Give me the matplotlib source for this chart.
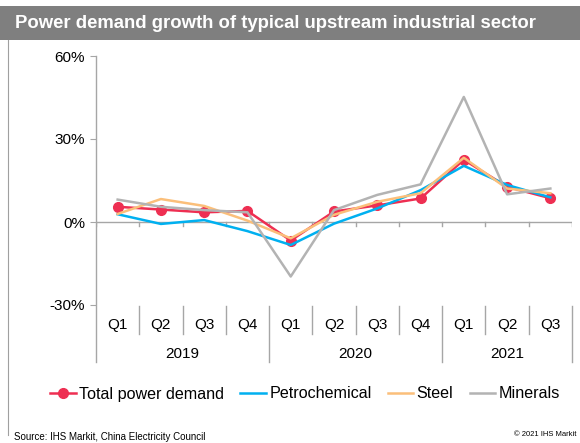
import matplotlib.pyplot as plt
from matplotlib.patches import Rectangle
from matplotlib.lines import Line2D

plt.rcParams['font.family'] = ['Liberation Sans', 'DejaVu Sans']

QUARTERS = ['Q1', 'Q2', 'Q3', 'Q4', 'Q1', 'Q2', 'Q3', 'Q4', 'Q1', 'Q2', 'Q3']
YEARS = ['2019', '2020', '2021']
YEAR_SPAN = [4, 4, 3]

total = [5.5, 4.5, 3.5, 4.0, -6.7, 3.8, 6.0, 8.5, 22.5, 12.7, 8.6]
petrochemical = [2.8, -0.7, 0.7, -3.3, -8.3, -0.6, 4.9, 11.5, 20.3, 13.4, 8.9]
steel = [2.9, 8.3, 5.8, 0.5, -5.9, 2.6, 7.3, 10.4, 23.2, 12.1, 10.4]
minerals = [8.1, 5.5, 4.3, 3.5, -19.7, 4.3, 9.8, 13.6, 45.2, 10.0, 12.1]

Y_TICKS = [-30, 0, 30, 60]

RED = '#ee2f52'
BLUE = '#00b0f0'
ORANGE = '#fbbf7a'
GRAY = '#b3b3b3'
AXIS = '#a6a6a6'

fig = plt.figure(figsize=(5.8, 4.43), dpi=100)

# title bar
fig.patches.append(Rectangle((0, 1 - 40 / 443), 1, 34 / 443, transform=fig.transFigure,
                             facecolor='#7f7f7f', edgecolor='none', zorder=0))
fig.text(15 / 580, 1 - 23 / 443, 'Power demand growth of typical upstream industrial sector',
         color='white', fontsize=13.3, fontweight='bold', va='center', ha='left')
fig.add_artist(Line2D([8 / 580, 8 / 580], [1 - 435 / 443, 1 - 40 / 443],
                      transform=fig.transFigure, color='#a0a0a0', linewidth=0.8))

ax = fig.add_axes([96 / 580, 1 - 305 / 443, 476 / 580, 249 / 443])
x = list(range(len(QUARTERS)))

ax.plot(x, total, color=RED, linewidth=1.8, marker='o', markersize=7,
        label='Total power demand', zorder=3)
ax.plot(x, petrochemical, color=BLUE, linewidth=1.8, label='Petrochemical', zorder=3)
ax.plot(x, steel, color=ORANGE, linewidth=1.8, label='Steel', zorder=3)
ax.plot(x, minerals, color=GRAY, linewidth=1.8, label='Minerals', zorder=3)

ax.set_xlim(-0.5, len(QUARTERS) - 0.5)
ax.set_ylim(-30, 60)
ax.set_yticks(Y_TICKS)
ax.set_yticklabels([f'{t}%' for t in Y_TICKS])
ax.tick_params(axis='y', length=4, labelsize=11, pad=4, colors='black')
ax.tick_params(axis='y', color=AXIS)
ax.set_xticks([])
for s in ['top', 'right', 'bottom', 'left']:
    ax.spines[s].set_visible(False)

# zero line with category ticks
ax.axhline(0, color=AXIS, linewidth=1, zorder=1)
for b in [i + 0.5 for i in range(-1, len(QUARTERS))]:
    ax.plot([b, b], [0, -1.6], color=AXIS, linewidth=1, zorder=1)

tr = ax.get_xaxis_transform()
# left axis line extended down through the category labels
ax.plot([-0.5, -0.5], [1, -0.229], transform=tr, color=AXIS, linewidth=1, clip_on=False)

for i, q in enumerate(QUARTERS):
    ax.text(i, -0.082, q, transform=tr, ha='center', va='center', fontsize=11)

edges = [-0.5]
for n in YEAR_SPAN:
    edges.append(edges[-1] + n)
for b in [i + 0.5 for i in range(0, len(QUARTERS))]:
    low = -0.229 if b in edges else -0.116
    ax.plot([b, b], [-0.004, low], transform=tr, color=AXIS, linewidth=1, clip_on=False)
for k, yr in enumerate(YEARS):
    ax.text((edges[k] + edges[k + 1]) / 2, -0.195, yr, transform=tr,
            ha='center', va='center', fontsize=11)

fig.legend(loc='center', bbox_to_anchor=(305 / 580, 1 - 394 / 443), ncol=4, frameon=False,
           fontsize=11.6, handlelength=1.6, handletextpad=0.2, columnspacing=1.0)

fig.text(14 / 580, 1 - 437 / 443, 'Source: IHS Markit, China Electricity Council',
         fontsize=7, va='center', ha='left')
fig.text(577 / 580, 1 - 434 / 443, '\u00a9 2021 IHS Markit', fontsize=5.5,
         va='center', ha='right')

fig.savefig('out.png', dpi=100)
